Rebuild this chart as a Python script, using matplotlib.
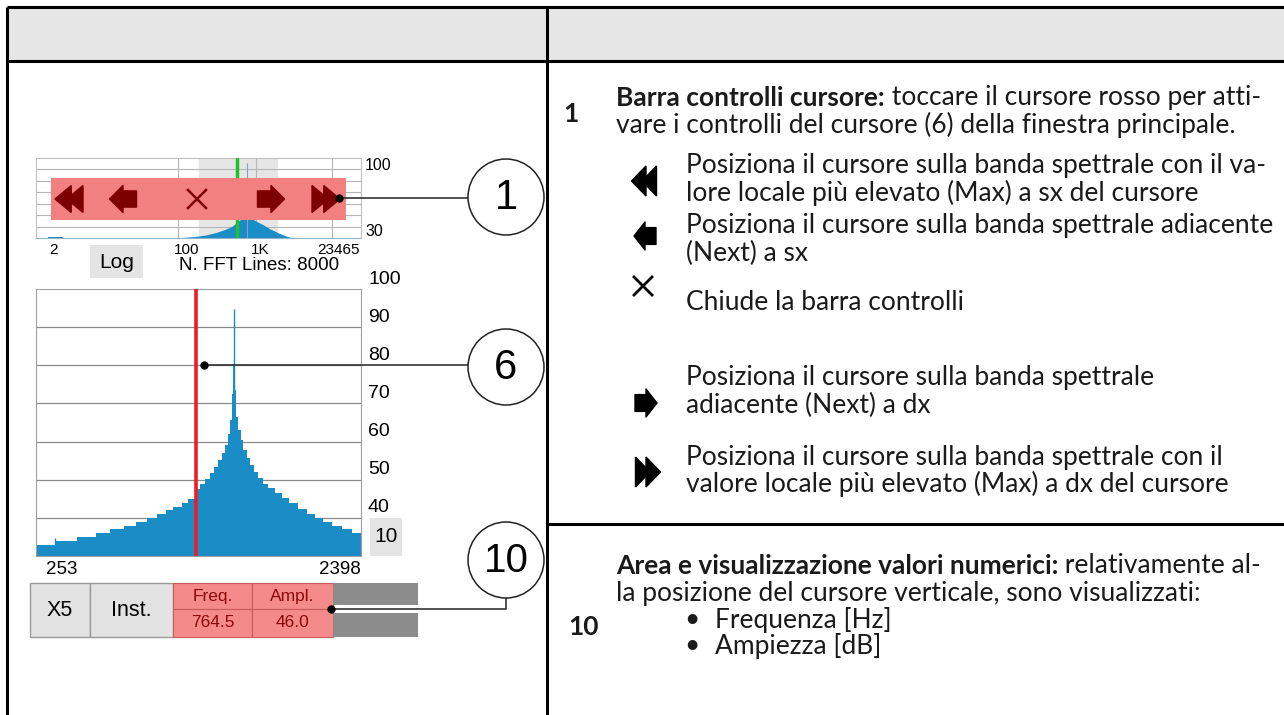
import matplotlib.pyplot as plt
from matplotlib.patches import Rectangle, Polygon, Circle

# ---- data ----
# zoomed spectrum (log axis 253..2398 Hz), step levels in dB
main_edges = [253, 289, 335, 383, 422, 466, 505, 547, 586, 622, 651, 693, 726, 764.5,
              787, 815, 843, 869, 893, 914, 936, 953, 969, 982, 991, 1000,
              1010, 1024, 1043, 1062, 1087, 1112, 1144, 1178, 1220, 1263, 1323, 1385,
              1460, 1554, 1646, 1745, 1848, 1957, 2097, 2248, 2398]
main_db = [32.9, 33.9, 34.9, 35.9, 37.0, 37.9, 38.9, 39.9, 41.0, 42.0, 42.9, 44.0, 45.0,
           47.5, 49.0, 50.3, 51.8, 53.4, 55.1, 56.9, 59.1, 62.1, 65.6, 72.6, 80.4,
           73.5, 66.5, 63.0, 60.4, 57.7, 55.6, 53.8, 52.1, 50.5, 49.0, 47.7, 46.4,
           45.1, 43.8, 42.2, 41.0, 39.9, 38.9, 37.9, 37.0, 35.9]
spike_freq = [289, 997]
spike_db = [34.6, 94.8]
main_range = (253, 2398)
db_range = (30, 100)
main_grid = [40, 50, 60, 70, 80, 90]
main_ylabels = ['100', '90', '80', '70', '60', '50', '40']

# overview spectrum (log axis 2..23465 Hz)
mini_freq = [100, 161, 237, 316, 422, 536, 649, 764, 908, 1000, 1101, 1334, 1616, 1957, 2488, 3162, 3831]
mini_db = [30, 30.5, 31.5, 32.8, 35, 37.5, 40, 44, 48, 50, 48, 44.5, 41.5, 38, 34.5, 31.5, 30]
mini_low_freq = [3.3, 5.0]
mini_low_db = [30.6, 30.6]
mini_vgrid = [137, 1296, 11660]
mini_xlim = (2.33, 26850)
mini_xlabels = ['2', '100', '1K', '23465']

cursor_freq = 764.5
cursor_ampl = 46.0
peak_freq = 1000
peak_db = 95.6

BLUE = '#1a8cc6'
RED = '#ee1c25'
W, H = 1284, 715
DEV = 'Liberation Sans'
DOC = 'Lato'

fig = plt.figure(figsize=(W / 100, H / 100), dpi=100)


def box(x0, y0, x1, y1):
    return [x0 / W, 1 - y1 / H, (x1 - x0) / W, (y1 - y0) / H]


#%% overview spectrum
am = fig.add_axes(box(36, 158, 361, 238))
am.set_xscale('log')
am.set_xlim(*mini_xlim)
am.set_ylim(*db_range)
am.axvspan(*main_range, color='#e6e6e6', zorder=0)
for v in main_grid:
    am.axhline(v, color='#b5b5b5', lw=0.8, zorder=1)
for f in mini_vgrid:
    am.axvline(f, color='#b5b5b5', lw=0.8, zorder=1)
am.fill_between(mini_freq, db_range[0], mini_db, color=BLUE, lw=0, zorder=2)
am.fill_between(mini_low_freq, db_range[0], mini_low_db, color=BLUE, lw=0, zorder=2)
am.vlines(peak_freq, db_range[0], peak_db, color='#7aa8c0', lw=0.8, zorder=2)
am.axvline(cursor_freq, color='#1fc02a', lw=2.5, zorder=3)
for s in am.spines.values():
    s.set_color('#c0c0c0')
    s.set_linewidth(0.8)
am.spines['bottom'].set_color('#8fb3c8')
am.set_xticks([])
am.set_yticks([])
am.minorticks_off()

#%% zoomed spectrum
ax = fig.add_axes(box(36, 289, 361, 556))
ax.set_xscale('log')
ax.set_xlim(*main_range)
ax.set_ylim(*db_range)
for v in main_grid:
    ax.axhline(v, color='#8a8a8a', lw=0.9, zorder=1)
ax.stairs(main_db, main_edges, baseline=db_range[0], fill=True, color=BLUE, zorder=2)
ax.vlines(spike_freq, db_range[0], spike_db, color=BLUE, lw=1.0, zorder=2)
ax.axvline(cursor_freq, color=RED, lw=2.6, zorder=3)
for s in ax.spines.values():
    s.set_color('#a0a0a0')
    s.set_linewidth(0.8)
ax.set_xticks([])
ax.set_yticks([])
ax.minorticks_off()

#%% overlay in pixel coordinates
ov = fig.add_axes([0, 0, 1, 1], zorder=5)
ov.set_xlim(0, W)
ov.set_ylim(H, 0)
ov.axis('off')
ov.patch.set_visible(False)

# table frame
ov.add_patch(Rectangle((7, 7), W - 7, 54, facecolor='#e6e6e7', edgecolor='none'))
lw_t = 2.2
ov.plot([7, W], [7, 7], color='k', lw=lw_t, solid_capstyle='butt')
ov.plot([7, W], [61, 61], color='k', lw=lw_t, solid_capstyle='butt')
ov.plot([7, 7], [7, H], color='k', lw=lw_t, solid_capstyle='butt')
ov.plot([547, 547], [7, H], color='k', lw=lw_t, solid_capstyle='butt')
ov.plot([547, W], [524, 524], color='k', lw=lw_t, solid_capstyle='butt')


def dbl(cx, cy, w, h, d, color):
    # double chevron, d=-1 left, d=+1 right
    tw = 0.58 * w
    x0 = cx + d * w / 2
    for tip in (x0, x0 - d * (w - tw)):
        pts = [(tip, cy), (tip - d * tw, cy - h / 2), (tip - d * tw, cy + h / 2)]
        ov.add_patch(Polygon(pts, closed=True, facecolor=color, edgecolor=color, lw=1))


def arr(cx, cy, w, h, d, color):
    x0 = cx + d * w / 2
    hw = 0.5 * w
    t = 0.3 * h
    pts = [(x0, cy), (x0 - d * hw, cy - h / 2), (x0 - d * hw, cy - t), (x0 - d * w, cy - t),
           (x0 - d * w, cy + t), (x0 - d * hw, cy + t), (x0 - d * hw, cy + h / 2)]
    ov.add_patch(Polygon(pts, closed=True, facecolor=color, edgecolor=color, lw=1, joinstyle='round'))


def cross(cx, cy, s, color, lw):
    ov.plot([cx - s, cx + s], [cy - s, cy + s], color=color, lw=lw)
    ov.plot([cx - s, cx + s], [cy + s, cy - s], color=color, lw=lw)


# cursor control bar over the overview
DR = '#7d0000'
ov.add_patch(Rectangle((51, 178), 295, 42, facecolor='#f28080', edgecolor='none'))
dbl(69, 199, 28, 27, -1, DR)
arr(123, 199, 27, 27, -1, DR)
cross(197, 199, 9, DR, 1.8)
arr(271, 199, 27, 27, 1, DR)
dbl(326, 199, 28, 27, 1, DR)

# overview labels
ov.text(365, 165, '100', fontsize=11.5, family=DEV, va='center')
ov.text(365, 232, '30', fontsize=11.5, family=DEV, va='center')
for lab, xp in zip(mini_xlabels, [53, 187, 260, 338]):
    ov.text(xp, 250, lab, fontsize=11, family=DEV, ha='center', va='center')

ov.add_patch(Rectangle((90, 245), 53, 33, facecolor='#e4e4e4', edgecolor='none'))
ov.text(116.5, 263, 'Log', fontsize=15, family=DEV, ha='center', va='center')
ov.text(259, 265, 'N. FFT Lines: 8000', fontsize=13.5, family=DEV, ha='center', va='center')

# zoomed spectrum labels
ov.text(368, 280, main_ylabels[0], fontsize=14, family=DEV, va='center')
for i, lab in enumerate(main_ylabels[1:]):
    ov.text(368, 317 + i * 38.2, lab, fontsize=14, family=DEV, va='center')
ov.add_patch(Rectangle((370, 518), 32, 38, facecolor='#e4e4e4', edgecolor='none'))
ov.text(386, 537, '10', fontsize=15, family=DEV, ha='center', va='center')
ov.text(62, 569, str(main_range[0]), fontsize=13.5, family=DEV, ha='center', va='center')
ov.text(340, 569, str(main_range[1]), fontsize=13.5, family=DEV, ha='center', va='center')

# value area
for x0, x1, lab in [(30, 90, 'X5'), (90, 173, 'Inst.')]:
    ov.add_patch(Rectangle((x0, 583), x1 - x0, 54, facecolor='#e3e3e3', edgecolor='#9a9a9a', lw=1))
    ov.text((x0 + x1) / 2, 610, lab, fontsize=15.5, family=DEV, ha='center', va='center')
vals = ['Freq.', 'Ampl.', f'{cursor_freq:.1f}', f'{cursor_ampl:.1f}']
cells = [(173, 583), (252, 583), (173, 609), (252, 609)]
for (x0, y0), lab in zip(cells, vals):
    ov.add_patch(Rectangle((x0, y0), 79 if x0 == 173 else 81, 26 if y0 == 583 else 28,
                           facecolor='#f58a8a', edgecolor='#c85a5a', lw=0.8))
    ov.text(x0 + 40, y0 + 13.5, lab, fontsize=12.5, family=DEV, color='#8b0a0a', ha='center', va='center')
ov.add_patch(Rectangle((333, 583), 85, 22, facecolor='#8c8c8c', edgecolor='none'))
ov.add_patch(Rectangle((333, 613), 85, 24, facecolor='#8c8c8c', edgecolor='none'))

# callouts
for cy, lab, fs in [(197, '1', 30), (367, '6', 30), (560, '10', 29)]:
    ov.add_patch(Circle((506, cy), 38, facecolor='white', edgecolor='#222222', lw=1.1, zorder=4))
    ov.text(506, cy + 1, lab, fontsize=fs, family=DEV, ha='center', va='center', zorder=5)
ov.plot([339, 468], [198, 198], color='#333333', lw=1.2)
ov.plot(339, 198, 'o', color='k', ms=5)
ov.plot([204, 468], [365, 365], color='#333333', lw=1.2)
ov.plot(204, 365, 'o', color='k', ms=5)
ov.plot([331, 506, 506], [609, 609, 598], color='#333333', lw=1.2)
ov.plot(331, 609, 'o', color='k', ms=5)

# right column text
FS = 19
TX = 616
TC = '#1a1a1a'


def mixed(x, y, bold, rest):
    t = ov.text(x, y, bold, fontsize=FS, family=DOC, fontweight='bold', va='center', color=TC)
    ov.annotate(rest, xy=(1, 0), xycoords=t, va='bottom', ha='left', fontsize=FS, family=DOC, color=TC)


ov.text(571, 114, '1', fontsize=FS, family=DOC, fontweight='bold', ha='center', va='center', color=TC)
mixed(TX, 98, 'Barra controlli cursore:', ' toccare il cursore rosso per atti-')
ov.text(TX, 125, 'vare i controlli del cursore (6) della finestra principale.', fontsize=FS, family=DOC,
        va='center', color=TC)

dbl(644, 181, 25, 30, -1, 'k')
arr(645, 236, 22, 28, -1, 'k')
cross(643, 286, 9, 'k', 2.0)
arr(646, 403, 22, 28, 1, 'k')
dbl(648, 472, 25, 30, 1, 'k')

lines = [(166, 'Posiziona il cursore sulla banda spettrale con il va-'),
         (193, 'lore locale più elevato (Max) a sx del cursore'),
         (226, 'Posiziona il cursore sulla banda spettrale adiacente'),
         (253, '(Next) a sx'),
         (302, 'Chiude la barra controlli'),
         (378, 'Posiziona il cursore sulla banda spettrale'),
         (405, 'adiacente (Next) a dx'),
         (457, 'Posiziona il cursore sulla banda spettrale con il'),
         (484, 'valore locale più elevato (Max) a dx del cursore')]
for y, s in lines:
    ov.text(686, y, s, fontsize=FS, family=DOC, va='center', color=TC)

mixed(TX, 566, 'Area e visualizzazione valori numerici:', ' relativamente al-')
ov.text(TX, 593, 'la posizione del cursore verticale, sono visualizzati:', fontsize=FS, family=DOC,
        va='center', color=TC)
ov.text(584, 627, '10', fontsize=FS, family=DOC, fontweight='bold', ha='center', va='center', color=TC)
for y, s in [(620, 'Frequenza [Hz]'), (646, 'Ampiezza [dB]')]:
    ov.text(692, y, '•', fontsize=FS, family=DOC, ha='center', va='center', color=TC)
    ov.text(715, y, s, fontsize=FS, family=DOC, va='center', color=TC)

fig.savefig('out.png', dpi=100)
